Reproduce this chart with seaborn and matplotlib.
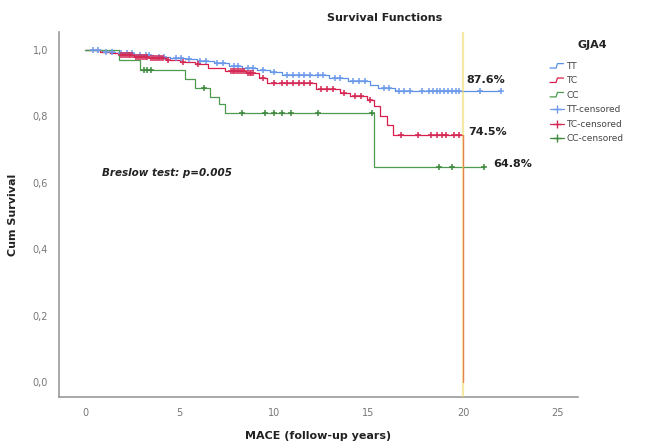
import numpy as np
import pandas as pd
import matplotlib
matplotlib.use("Agg")
import matplotlib.pyplot as plt
from matplotlib.lines import Line2D
from matplotlib.legend_handler import HandlerBase
from matplotlib.ticker import FuncFormatter
import seaborn as sns

# ---------------- data ----------------
groups = ["TT", "TC", "CC"]

tt_times = [0.9, 1.6, 2.6, 3.6, 4.5, 5.3, 5.9, 6.8, 7.6, 8.3, 9.1, 9.8, 10.4, 12.9, 13.9, 15.1, 15.5, 16.4]
tt_surv = [0.995, 0.99, 0.985, 0.98, 0.976, 0.972, 0.966, 0.96, 0.953, 0.947, 0.941, 0.935, 0.925, 0.915, 0.905, 0.893, 0.885, 0.876]
tt_end = 22.0
tt_cens = [0.4, 0.7, 1.1, 1.4, 1.9, 2.2, 2.5, 2.9, 3.2, 3.4, 3.9, 4.2, 4.8, 5.1, 5.5, 6.1, 6.4, 7.0, 7.3,
           7.9, 8.1, 8.6, 8.9, 9.4, 10.0, 10.7, 11.0, 11.3, 11.6, 11.9, 12.3, 12.6, 13.2, 13.5, 14.2,
           14.5, 14.8, 15.8, 16.1, 16.6, 16.9, 17.2, 17.8, 18.2, 18.4, 18.6, 18.8, 19.0, 19.2, 19.4,
           19.6, 19.8, 20.9, 22.0]

tc_times = [0.8, 1.3, 1.8, 2.6, 3.4, 4.3, 5.0, 5.8, 6.5, 7.4, 8.5, 9.2, 9.6, 12.2, 13.5, 14.0, 14.9, 15.3, 15.6, 16.0, 16.3, 20.0]
tc_surv = [0.995, 0.99, 0.985, 0.98, 0.975, 0.97, 0.965, 0.958, 0.946, 0.938, 0.93, 0.915, 0.90, 0.883, 0.87, 0.86, 0.85, 0.83, 0.80, 0.775, 0.745, 0.0]
tc_end = 20.0
tc_cens = [1.9, 2.0, 2.1, 2.2, 2.3, 2.4, 2.5, 2.7, 2.8, 2.9, 3.0, 3.1, 3.2, 3.3, 3.5, 3.6, 3.7, 3.8, 3.9,
           4.0, 4.1, 4.4, 5.2, 6.0, 7.7, 7.8, 7.9, 8.0, 8.1, 8.2, 8.3, 8.4, 8.6, 8.7, 8.8, 8.9, 9.4,
           10.0, 10.4, 10.7, 11.0, 11.3, 11.6, 11.9, 12.5, 12.8, 13.1, 13.7, 14.3, 14.6, 15.1, 16.7,
           17.6, 18.3, 18.6, 18.9, 19.1, 19.5, 19.8]

cc_times = [1.8, 2.9, 5.3, 5.8, 6.6, 7.1, 7.4, 15.3]
cc_surv = [0.97, 0.94, 0.912, 0.885, 0.858, 0.836, 0.81, 0.648]
cc_end = 21.1
cc_cens = [3.1, 3.3, 3.5, 6.3, 8.3, 9.5, 10.0, 10.4, 10.9, 12.3, 15.2, 18.7, 19.4, 21.1]

final_labels = {"TT": 0.876, "TC": 0.745, "CC": 0.648}
breslow_text = "Breslow test: p=0.005"
x_ticks = [0, 5, 10, 15, 20, 25]
y_ticks = [0.0, 0.2, 0.4, 0.6, 0.8, 1.0]
ref_line_x = 20

# ---------------- styling ----------------
colors = {"TT": "#5b8fe8", "TC": "#d81e4c", "CC": "#4e9a4e"}
cens_colors = {"TT": "#6f9bea", "TC": "#d42a55", "CC": "#3f8a3f"}

def step_frame(name, times, surv, end):
    xs = [0.0] + list(times)
    ys = [1.0] + list(surv)
    if end > xs[-1]:
        xs.append(end)
        ys.append(ys[-1])
    return pd.DataFrame({"time": xs, "surv": ys, "group": name})

def cens_frame(name, times, surv, cens):
    t = np.asarray(times)
    s = np.concatenate([[1.0], np.asarray(surv)])
    idx = np.searchsorted(t, np.asarray(cens), side="right")
    return pd.DataFrame({"time": cens, "surv": s[idx], "group": name})

curves = {
    "TT": step_frame("TT", tt_times, tt_surv, tt_end),
    "TC": step_frame("TC", tc_times, tc_surv, tc_end),
    "CC": step_frame("CC", cc_times, cc_surv, cc_end),
}
censors = {
    "TT": cens_frame("TT", tt_times, tt_surv, tt_cens),
    "TC": cens_frame("TC", tc_times, tc_surv, tc_cens),
    "CC": cens_frame("CC", cc_times, cc_surv, cc_cens),
}

sns.set_theme(style="white")
plt.rcParams["font.family"] = ["DejaVu Sans"]

W, H = 645, 445
fig = plt.figure(figsize=(W / 100, H / 100), dpi=100)
L, R, T, B = 59, 578, 32, 397
ax = fig.add_axes([L / W, 1 - B / H, (R - L) / W, (B - T) / H])

for g in ["TT", "TC", "CC"]:
    sns.lineplot(data=curves[g], x="time", y="surv", ax=ax, color=colors[g],
                 drawstyle="steps-post", estimator=None, sort=False, lw=0.9, legend=False,
                 zorder=3)
for g in ["TT", "TC", "CC"]:
    sns.scatterplot(data=censors[g], x="time", y="surv", ax=ax, color=cens_colors[g],
                    marker="+", s=18, linewidth=1.1, legend=False, zorder=4)

ax.axvline(ref_line_x, color="#f2d85a", lw=1.6, alpha=0.55, zorder=5)

ax.set_xlim(-1.38, 26.08)
ax.set_ylim(-0.045, 1.054)
ax.set_xticks(x_ticks)
ax.set_yticks(y_ticks)
ax.xaxis.set_major_formatter(FuncFormatter(lambda v, p: f"{v:g}"))
ax.yaxis.set_major_formatter(FuncFormatter(lambda v, p: f"{v:.1f}".replace(".", ",")))
ax.tick_params(axis="both", length=0, labelsize=7, colors="#777777", pad=8)
for side in ["top", "right"]:
    ax.spines[side].set_visible(False)
for side in ["left", "bottom"]:
    ax.spines[side].set_color("#9a9a9a")
    ax.spines[side].set_linewidth(1.2)

ax.set_xlabel("MACE (follow-up years)", fontsize=8, fontweight="bold", color="#222222")
ax.set_ylabel("Cum Survival", fontsize=8, fontweight="bold", color="#222222")
ax.xaxis.set_label_coords(0.5, -(431 - B) / (B - T))
ax.yaxis.set_label_coords(-(L - 18) / (R - L), 0.5)

ax.set_title("Survival Functions", fontsize=8, fontweight="bold", color="#222222",
             x=(385 - L) / (R - L), y=1 + (T - 18) / (B - T), va="center", pad=0)

ax.text(0.9, 0.628, breslow_text, fontsize=7.5, fontweight="bold", fontstyle="italic",
        color="#222222", va="center", ha="left")

label_pos = {"TT": (20.2, 0.91), "TC": (20.25, 0.753), "CC": (21.6, 0.657)}
for g in ["TT", "TC", "CC"]:
    x, y = label_pos[g]
    ax.text(x, y, f"{final_labels[g] * 100:.1f}%", fontsize=8, fontweight="bold",
            color="#222222", va="center", ha="left")

# legend
class StepHandler(HandlerBase):
    def create_artists(self, legend, orig_handle, xdescent, ydescent, width, height, fontsize, trans):
        x0, y0 = -xdescent, -ydescent
        xs = [x0, x0 + width * 0.45, x0 + width * 0.55, x0 + width]
        ys = [y0 + height * 0.15, y0 + height * 0.15, y0 + height * 0.85, y0 + height * 0.85]
        ln = Line2D(xs, ys, color=orig_handle.get_color(), lw=0.9, transform=trans)
        return [ln]

handles, labels, hmap = [], [], {}
for g in groups:
    h = Line2D([], [], color=colors[g], lw=0.9)
    handles.append(h)
    labels.append(g)
    hmap[h] = StepHandler()
for g in groups:
    handles.append(Line2D([], [], color=cens_colors[g], lw=0.9, marker="+", markersize=6, mew=1.0))
    labels.append(f"{g}-censored")

leg = fig.legend(handles, labels, handler_map=hmap, loc="upper left",
                 bbox_to_anchor=(550 / W, 1 - 62 / H), frameon=False, fontsize=6.5,
                 handlelength=1.5, handletextpad=0.3, labelspacing=0.6,
                 borderpad=0, borderaxespad=0)
for t in leg.get_texts():
    t.set_color("#444444")
fig.text(577 / W, 1 - 45 / H, "GJA4", fontsize=8, fontweight="bold", color="#222222",
         ha="left", va="center")

fig.savefig("out.png", dpi=100, facecolor="white")
